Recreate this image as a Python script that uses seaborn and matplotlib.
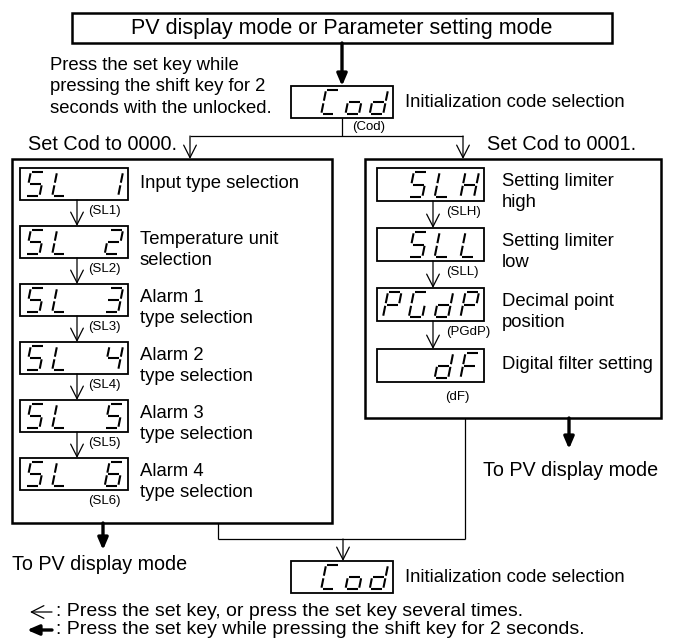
import matplotlib
matplotlib.use("Agg")
import matplotlib.pyplot as plt
import seaborn as sns
from matplotlib.patches import Rectangle

sns.set_theme(style="white")
plt.rcParams['font.family'] = ['Liberation Sans', 'DejaVu Sans']

# ---------------- content ----------------
top_title = "PV display mode or Parameter setting mode"
intro_lines = ["Press the set key while", "pressing the shift key for 2", "seconds with the unlocked."]
init_code = " Cod"
init_label = "(Cod)"
init_desc = "Initialization code selection"
branch_left = "Set Cod to 0000."
branch_right = "Set Cod to 0001."

left_codes = ["SL 1", "SL 2", "SL 3", "SL 4", "SL 5", "SL 6"]
left_tags = ["(SL1)", "(SL2)", "(SL3)", "(SL4)", "(SL5)", "(SL6)"]
left_desc = [["Input type selection"], ["Temperature unit", "selection"],
             ["Alarm 1", "type selection"], ["Alarm 2", "type selection"],
             ["Alarm 3", "type selection"], ["Alarm 4", "type selection"]]

right_codes = [" SLH", " SLL", "PGdP", "  dF"]
right_tags = ["(SLH)", "(SLL)", "(PGdP)", "(dF)"]
right_desc = [["Setting limiter", "high"], ["Setting limiter", "low"],
              ["Decimal point", "position"], ["Digital filter setting"]]

exit_text = "To PV display mode"
legend_texts = [": Press the set key, or press the set key several times.",
                ": Press the set key while pressing the shift key for 2 seconds."]

# seven segment maps
SEG = {
    'S': 'afgcd', '5': 'afgcd', 'L': 'fed', '1': 'bc', '2': 'abged',
    '3': 'abgcd', '4': 'fgbc', '6': 'afgedc', 'H': 'febcg', 'P': 'abfge',
    'G': 'afedc', 'd': 'bcdeg', 'F': 'afge', 'C': 'afed', 'o': 'cdeg', ' ': ''
}

# ---------------- figure ----------------
W, H = 674, 644
fig = plt.figure(figsize=(W / 100, H / 100), dpi=100)
ax = fig.add_axes([0, 0, 1, 1])
ax.set_xlim(0, W)
ax.set_ylim(H, 0)
ax.axis('off')

BODY = 13.3
SMALL = 9.5


def rect(x1, y1, x2, y2, lw=1.4):
    ax.add_patch(Rectangle((x1, y1), x2 - x1, y2 - y1, fill=False, ec='black', lw=lw))


def line(xs, ys, lw=0.9):
    ax.plot(xs, ys, color='black', lw=lw, solid_capstyle='butt')


def thin_arrow(x1, y1, x2, y2):
    ax.annotate('', xy=(x2, y2), xytext=(x1, y1),
                arrowprops=dict(arrowstyle='->,head_length=0.75,head_width=0.38',
                                lw=0.9, color='black', shrinkA=0, shrinkB=0))


def thick_arrow(x1, y1, x2, y2):
    ax.annotate('', xy=(x2, y2), xytext=(x1, y1),
                arrowprops=dict(arrowstyle='-|>,head_length=0.7,head_width=0.3',
                                lw=2.4, color='black', shrinkA=0, shrinkB=0,
                                mutation_scale=10))


def seg_digit(x0, ybot, w, h, ch, slant=0.2, lw=1.5):
    g = 1.3
    segs = {
        'a': ((g, h), (w - g, h)),
        'b': ((w, h - g), (w, h / 2 + g)),
        'c': ((w, h / 2 - g), (w, g)),
        'd': ((g, 0), (w - g, 0)),
        'e': ((0, g), (0, h / 2 - g)),
        'f': ((0, h / 2 + g), (0, h - g)),
        'g': ((g, h / 2), (w - g, h / 2)),
    }
    for s in SEG.get(ch, ''):
        (u1, v1), (u2, v2) = segs[s]
        ax.plot([x0 + u1 + v1 * slant, x0 + u2 + v2 * slant],
                [ybot - v1, ybot - v2], color='black', lw=lw, solid_capstyle='butt')


def display(x1, y1, x2, y2, code):
    rect(x1, y1, x2, y2, lw=1.3)
    h = (y2 - y1) - 8
    w = 13.5
    slant = 0.2
    ml = 6
    mr = 5
    pitch = ((x2 - x1) - ml - mr - w - h * slant) / 3
    for i, ch in enumerate(code):
        seg_digit(x1 + ml + i * pitch, y2 - 4, w, h, ch, slant=slant)


def txt(x, y, s, size=BODY, ha='left'):
    ax.text(x, y, s, fontsize=size, ha=ha, va='center', color='black')


# top box
rect(72, 13, 612, 43, lw=1.8)
txt(342, 28, top_title, size=15.5, ha='center')
thick_arrow(342, 43, 342, 86)
for i, s in enumerate(intro_lines):
    txt(50, 65 + i * 21.5, s)

# init code display
display(291, 86, 393, 118, init_code)
txt(405, 102, init_desc)
txt(352, 127, init_label, size=SMALL)
line([342, 342], [118, 136])
line([190, 463], [136, 136])
thin_arrow(190, 136, 190, 159)
thin_arrow(463, 136, 463, 159)
txt(177, 144, branch_left, size=14.3, ha='right')
txt(487, 144, branch_right, size=14.3)

# left block
rect(12, 159, 332, 523, lw=1.8)
ltops = [168, 226, 284, 342, 400, 458]
for i, (code, tag, desc) in enumerate(zip(left_codes, left_tags, left_desc)):
    t = ltops[i]
    b = t + 32
    display(20, t, 128, b, code)
    cy = (t + b) / 2
    if len(desc) == 1:
        txt(140, cy - 1, desc[0])
    else:
        txt(140, cy - 3, desc[0])
        txt(140, cy + 18, desc[1])
    if i < len(left_codes) - 1:
        thin_arrow(77, b, 77, ltops[i + 1])
    txt(88, b + 11, tag, size=SMALL)

# right block
rect(365, 159, 661, 418, lw=1.8)
rtops = [168, 228, 288, 349]
for i, (code, tag, desc) in enumerate(zip(right_codes, right_tags, right_desc)):
    t = rtops[i]
    b = t + 33
    display(377, t, 484, b, code)
    cy = (t + b) / 2
    if len(desc) == 1:
        txt(502, cy - 1, desc[0])
    else:
        txt(502, cy - 3, desc[0])
        txt(502, cy + 18, desc[1])
    if i < len(right_codes) - 1:
        thin_arrow(433, b, 433, rtops[i + 1])
        txt(446, b + 11, tag, size=SMALL)
    else:
        txt(457, b + 15, tag, size=SMALL, ha='center')

# exits
thick_arrow(103, 523, 103, 550)
txt(12, 564, exit_text, size=14.2)
thick_arrow(569, 418, 569, 449)
txt(483, 470, exit_text, size=14.2)

# merge to bottom init display
line([218, 218], [523, 539])
line([465, 465], [418, 539])
line([218, 465], [539, 539])
thin_arrow(343, 539, 343, 561)
display(291, 561, 393, 593, init_code)
txt(405, 577, init_desc)

# legend
thin_arrow(52, 612, 30, 612)
txt(56, 612, legend_texts[0], size=14)
thick_arrow(52, 630, 27, 630)
txt(56, 630, legend_texts[1], size=14)

fig.savefig("out.png", dpi=100)
